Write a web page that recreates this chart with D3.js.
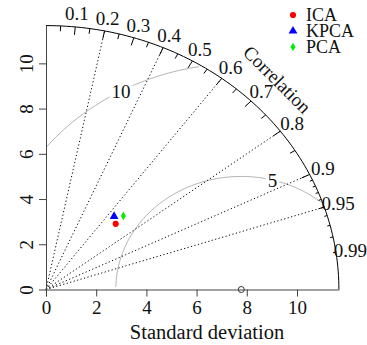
<!DOCTYPE html>
<html>
<head>
<meta charset="utf-8">
<script src="https://cdn.jsdelivr.net/npm/d3@7"></script>
<style>
  body { margin: 0; background: #fff; }
  svg text { font-family: "Liberation Serif", "Times New Roman", Times, "DejaVu Serif", serif; fill: #111; }
</style>
</head>
<body>
<svg id="chart" width="367" height="345"></svg>
<script>
// model statistics
const models = ["ICA", "KPCA", "PCA"];
const sdValues = [4.02, 4.22, 4.48];
const corrValues = [0.691, 0.643, 0.688];
const modelColors = ["#ff0000", "#0000ff", "#00ee00"];
const refSd = 7.78;

const sdTicks = [0, 2, 4, 6, 8, 10];
const corrLabels = [0.1, 0.2, 0.3, 0.4, 0.5, 0.6, 0.7, 0.8, 0.9, 0.95, 0.99];
const corrLines = [0.2, 0.4, 0.6, 0.8, 0.9, 0.95];
const rmsLevels = [5, 10];

const maxsd = 1.5 * Math.max(refSd, d3.max(sdValues));

const svg = d3.select("#chart");
const fs = 19;
const serif = '"Liberation Serif", "Times New Roman", Times, "DejaVu Serif", serif';

const x = d3.scaleLinear().domain([0, maxsd]).range([46, 338.9]);
const y = d3.scaleLinear().domain([0, maxsd]).range([289.5, 25.6]);

// polar helpers (sd, correlation) -> pixel
const px = (r, c) => x(r * c);
const py = (r, c) => y(r * Math.sqrt(1 - c * c));

const line = d3.line().x(d => x(d[0])).y(d => y(d[1]));

// rms difference contours around the reference point
const labelIdx = [44, 69];
rmsLevels.forEach((g, gi) => {
  const pts = d3.range(0, Math.PI, 0.03).map(t => [Math.cos(t) * g + refSd, Math.sin(t) * g]);
  const kept = pts.filter(p => p[0] >= 0 && p[0] * p[0] + p[1] * p[1] <= maxsd * maxsd);
  svg.append("path")
    .attr("d", line(kept))
    .attr("fill", "none")
    .attr("stroke", "#b4b4b4")
    .attr("stroke-width", 1);
  const lp = pts[labelIdx[gi]];
  const lbl = svg.append("g").attr("transform", `translate(${x(lp[0])},${y(lp[1])})`);
  const w = String(g).length * fs * 0.5 + 4;
  lbl.append("rect").attr("x", -w / 2).attr("y", -fs * 0.45).attr("width", w).attr("height", fs * 0.9).attr("fill", "#fff");
  lbl.append("text").attr("text-anchor", "middle").attr("dy", "0.35em")
    .style("font-size", fs + "px").text(g);
});

// correlation rays
corrLines.forEach(c => {
  svg.append("line")
    .attr("x1", x(0)).attr("y1", y(0))
    .attr("x2", px(maxsd, c)).attr("y2", py(maxsd, c))
    .attr("stroke", "#000").attr("stroke-width", 1)
    .attr("stroke-dasharray", "1.2,2.4");
});

// outer arc
const arcPts = d3.range(0, 91).map(a => [maxsd * Math.cos(a * Math.PI / 180), maxsd * Math.sin(a * Math.PI / 180)]);
svg.append("path").attr("d", line(arcPts)).attr("fill", "none").attr("stroke", "#000").attr("stroke-width", 1);

// arc ticks
const tickSets = [
  [d3.range(1, 10).map(i => i / 10), 0.97],
  [d3.range(0, 10).map(i => 0.05 + i / 10), 0.98],
  [d3.range(1, 10).map(i => 0.9 + i / 100), 0.99]
];
tickSets.forEach(([cs, f]) => {
  cs.forEach(c => {
    svg.append("line")
      .attr("x1", px(maxsd, c)).attr("y1", py(maxsd, c))
      .attr("x2", px(maxsd * f, c)).attr("y2", py(maxsd * f, c))
      .attr("stroke", "#000").attr("stroke-width", 1);
  });
});

// correlation labels
corrLabels.forEach(c => {
  svg.append("text")
    .attr("x", px(maxsd * 1.05, c)).attr("y", py(maxsd * 1.05, c))
    .attr("text-anchor", "middle").attr("dy", "0.35em")
    .style("font-size", fs + "px")
    .text(c);
});

svg.append("text")
  .attr("transform", `translate(${x(maxsd * 0.8) - 3},${y(maxsd * 0.8) + 1}) rotate(45)`)
  .attr("text-anchor", "middle").attr("dy", "0.35em")
  .style("font-size", fs + "px")
  .text("Correlation");

// axes
const xAxis = svg.append("g").attr("transform", `translate(0,${y(0)})`)
  .call(d3.axisBottom(x).tickValues(sdTicks).tickSize(7).tickPadding(4).tickSizeOuter(0));
const yAxis = svg.append("g").attr("transform", `translate(${x(0)},0)`)
  .call(d3.axisLeft(y).tickValues(sdTicks).tickSize(7).tickSizeOuter(0));
[xAxis, yAxis].forEach(a => {
  a.attr("font-family", serif);
  a.select(".domain").attr("stroke", "#444");
  a.selectAll(".tick line").attr("stroke", "#444");
  a.selectAll("text").style("font-size", fs + "px").attr("fill", "#111");
});
yAxis.selectAll(".tick text")
  .attr("x", null).attr("dy", null)
  .attr("text-anchor", "middle")
  .attr("transform", "translate(-20,0) rotate(-90)")
  .attr("dy", "0.35em");

svg.append("text")
  .attr("x", 207).attr("y", 339)
  .attr("text-anchor", "middle")
  .style("font-size", "20.5px")
  .text("Standard deviation");

// reference point
svg.append("circle")
  .attr("cx", x(refSd)).attr("cy", y(0)).attr("r", 3)
  .attr("fill", "none").attr("stroke", "#333").attr("stroke-width", 1);

// model points
const shapes = [d3.symbolCircle, d3.symbolTriangle, d3.symbolDiamond];
const sizes = [30, 34, 22];
models.forEach((m, i) => {
  svg.append("path")
    .attr("d", d3.symbol(shapes[i], sizes[i])())
    .attr("transform", `translate(${px(sdValues[i], corrValues[i])},${py(sdValues[i], corrValues[i])})`)
    .attr("fill", modelColors[i]);
});

// legend
const legend = svg.append("g").attr("transform", "translate(293,15)");
models.forEach((m, i) => {
  const row = legend.append("g").attr("transform", `translate(0,${i * 16})`);
  row.append("path").attr("d", d3.symbol(shapes[i], sizes[i])()).attr("fill", modelColors[i]);
  row.append("text").attr("x", 13).attr("dy", "0.35em")
    .style("font-size", "18px").text(m);
});
</script>
</body>
</html>
